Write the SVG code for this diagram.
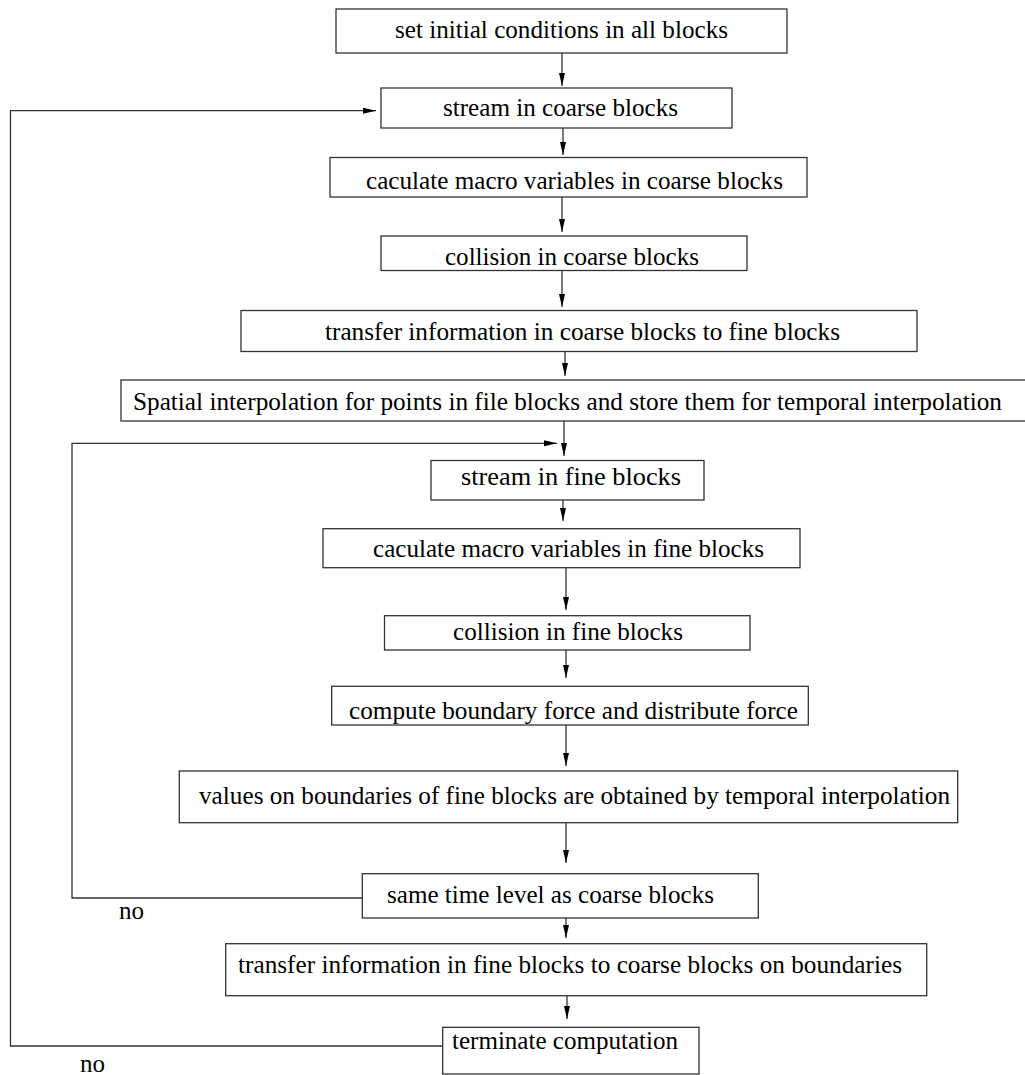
<svg xmlns="http://www.w3.org/2000/svg" width="1025" height="1075" viewBox="0 0 1025 1075">
<style>
.box{fill:#fff;stroke:#333;stroke-width:1.3}
.t{font-family:'Liberation Serif','Times New Roman','DejaVu Serif',serif;font-size:25px;fill:#000}
.c{fill:none;stroke:#333;stroke-width:1.3}
</style>
<defs>
<marker id="ah" markerUnits="userSpaceOnUse" markerWidth="14" markerHeight="8" refX="13" refY="3" orient="auto">
<path d="M0,0 L13,3 L0,6 z" fill="#000"/>
</marker>
</defs>
<rect width="1025" height="1075" fill="#fff"/>
<g id="connectors">
<line class="c" x1="562" y1="53" x2="562" y2="86" marker-end="url(#ah)"/>
<line class="c" x1="563" y1="128" x2="563" y2="155" marker-end="url(#ah)"/>
<line class="c" x1="562" y1="197" x2="562" y2="232" marker-end="url(#ah)"/>
<line class="c" x1="562" y1="270" x2="562" y2="307" marker-end="url(#ah)"/>
<line class="c" x1="565" y1="352" x2="565" y2="376" marker-end="url(#ah)"/>
<line class="c" x1="564" y1="421" x2="564" y2="456" marker-end="url(#ah)"/>
<line class="c" x1="563" y1="500" x2="563" y2="521" marker-end="url(#ah)"/>
<line class="c" x1="566" y1="568" x2="566" y2="610" marker-end="url(#ah)"/>
<line class="c" x1="566" y1="650" x2="566" y2="678" marker-end="url(#ah)"/>
<line class="c" x1="566" y1="725" x2="566" y2="766" marker-end="url(#ah)"/>
<line class="c" x1="566" y1="823" x2="566" y2="863" marker-end="url(#ah)"/>
<line class="c" x1="566" y1="918" x2="566" y2="938" marker-end="url(#ah)"/>
<line class="c" x1="567" y1="996" x2="567" y2="1019" marker-end="url(#ah)"/>
<polyline class="c" points="443,1046 10.5,1046 10.5,110.7 376,110.7" marker-end="url(#ah)"/>
<polyline class="c" points="362,898 72,898 72,443.3 557,443.3" marker-end="url(#ah)"/>
<text class="t" x="119" y="919">no</text>
<text class="t" x="80" y="1072">no</text>
</g>
<g id="n1"><rect class="box" x="336" y="9" width="451" height="44"/><text class="t" x="395" y="38" textLength="333" lengthAdjust="spacingAndGlyphs">set initial conditions in all blocks</text></g>
<g id="n2"><rect class="box" x="381" y="88" width="351" height="40"/><text class="t" x="443" y="116" textLength="235" lengthAdjust="spacingAndGlyphs">stream in coarse blocks</text></g>
<g id="n3"><rect class="box" x="330" y="157.5" width="477" height="39.5"/><text class="t" x="366" y="189" textLength="417" lengthAdjust="spacingAndGlyphs">caculate macro variables in coarse blocks</text></g>
<g id="n4"><rect class="box" x="381" y="236" width="366" height="34.5"/><text class="t" x="445" y="265" textLength="254" lengthAdjust="spacingAndGlyphs">collision in coarse blocks</text></g>
<g id="n5"><rect class="box" x="241" y="310.5" width="676" height="41"/><text class="t" x="325" y="340" textLength="515" lengthAdjust="spacingAndGlyphs">transfer information in coarse blocks to fine blocks</text></g>
<g id="n6"><rect class="box" x="121" y="380" width="920" height="41"/><text class="t" x="133" y="410" textLength="869" lengthAdjust="spacingAndGlyphs">Spatial interpolation for points in file blocks and store them for temporal interpolation</text></g>
<g id="n7"><rect class="box" x="431" y="460.5" width="273" height="39.5"/><text class="t" x="461" y="485" textLength="220" lengthAdjust="spacingAndGlyphs">stream in fine blocks</text></g>
<g id="n8"><rect class="box" x="323" y="528.7" width="477" height="39"/><text class="t" x="373" y="557" textLength="391" lengthAdjust="spacingAndGlyphs">caculate macro variables in fine blocks</text></g>
<g id="n9"><rect class="box" x="384.5" y="615.7" width="365.5" height="34.3"/><text class="t" x="453" y="640" textLength="230" lengthAdjust="spacingAndGlyphs">collision in fine blocks</text></g>
<g id="n10"><rect class="box" x="331.7" y="686.3" width="476.6" height="38.7"/><text class="t" x="349" y="719" textLength="449" lengthAdjust="spacingAndGlyphs">compute boundary force and distribute force</text></g>
<g id="n11"><rect class="box" x="179.3" y="771" width="778.4" height="51.7"/><text class="t" x="199" y="804" textLength="751" lengthAdjust="spacingAndGlyphs">values on boundaries of fine blocks are obtained by temporal interpolation</text></g>
<g id="n12"><rect class="box" x="362.3" y="873.7" width="396" height="44.3"/><text class="t" x="387" y="903" textLength="327" lengthAdjust="spacingAndGlyphs">same time level as coarse blocks</text></g>
<g id="n13"><rect class="box" x="225.7" y="943.7" width="701" height="52"/><text class="t" x="238" y="973" textLength="664" lengthAdjust="spacingAndGlyphs">transfer information in fine blocks to coarse blocks on boundaries</text></g>
<g id="n14"><rect class="box" x="442.7" y="1027.3" width="256.3" height="46.7"/><text class="t" x="452" y="1049" textLength="226" lengthAdjust="spacingAndGlyphs">terminate computation</text></g>
</svg>
